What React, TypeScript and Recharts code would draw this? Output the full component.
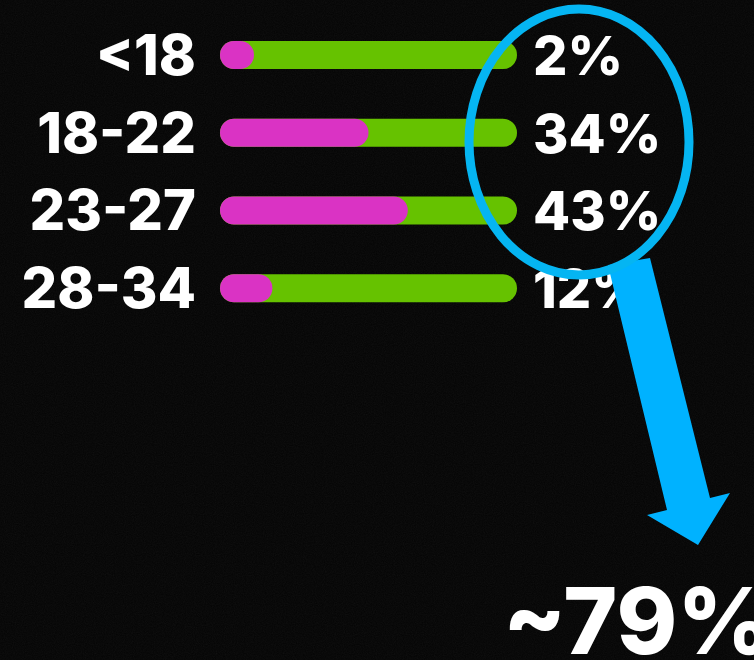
import { BarChart, Bar, XAxis, YAxis } from "recharts";

// age groups and their share of the audience (%)
const AGE_GROUPS = ["<18", "18-22", "23-27", "28-34"];
const SHARES = [2, 34, 43, 12];
const CALLOUT = "~79%";

const GREEN = "#66c200";
const MAGENTA = "#da33c4";
const BLUE = "#05b5f2";
const FONT = "Inter, 'Noto Sans', sans-serif";

const data = AGE_GROUPS.map((age, i) => ({ age, share: SHARES[i] }));

function AgeTick({ x, y, payload }: any) {
  return (
    <text x={x} y={y} dy={20} textAnchor="end" fill="#fff" fontFamily={FONT} fontWeight={800} fontSize={56}>
      {payload.value}
    </text>
  );
}

function ShareTick({ x, y, payload }: any) {
  return (
    <text x={x} y={y} dy={20} textAnchor="start" fill="#fff" fontFamily={FONT} fontWeight={800} fontSize={54}>
      {payload.value}%
    </text>
  );
}

export default function App() {
  return (
    <div style={{ position: "relative", width: 754, height: 660, background: "#040404", overflow: "hidden" }}>
      <style>{"body{margin:0;background:#040404}"}</style>
      {/* grainy backdrop */}
      <svg width={754} height={660} style={{ position: "absolute", left: 0, top: 0 }}>
        <filter id="grain">
          <feTurbulence type="fractalNoise" baseFrequency="0.9" numOctaves={2} seed={3} />
          <feColorMatrix type="saturate" values="0" />
        </filter>
        <rect width={754} height={660} filter="url(#grain)" opacity={0.06} />
      </svg>

      <div style={{ position: "absolute", left: 0, top: 0 }}>
        <BarChart
          width={754}
          height={660}
          data={data}
          layout="vertical"
          margin={{ top: 16, right: 0, bottom: 333, left: 0 }}
        >
          <XAxis type="number" domain={[0, 68]} hide />
          <YAxis
            yAxisId="age"
            type="category"
            dataKey="age"
            width={220}
            axisLine={false}
            tickLine={false}
            tickMargin={18}
            tick={<AgeTick />}
          />
          <YAxis
            yAxisId="share"
            orientation="right"
            type="category"
            dataKey="share"
            width={237}
            axisLine={false}
            tickLine={false}
            tickMargin={10}
            tick={<ShareTick />}
          />
          <Bar
            yAxisId="age"
            dataKey="share"
            fill={MAGENTA}
            barSize={28}
            radius={14}
            minPointSize={34}
            background={{ fill: GREEN, radius: 14 }}
            isAnimationActive={false}
          />
        </BarChart>
      </div>

      {/* magnifier annotation */}
      <svg width={754} height={660} style={{ position: "absolute", left: 0, top: 0, pointerEvents: "none" }}>
        <polygon
          points="608,265 650,258 710,498 730,493 698,545 647,515 667,510"
          fill="#00b2ff"
        />
        <ellipse cx={579} cy={142} rx={110} ry={133} fill="none" stroke={BLUE} strokeWidth={9} />
        <text x={503} y={654} fill="#fff" fontFamily={FONT} fontWeight={800} fontSize={92}>
          {CALLOUT}
        </text>
      </svg>
    </div>
  );
}
